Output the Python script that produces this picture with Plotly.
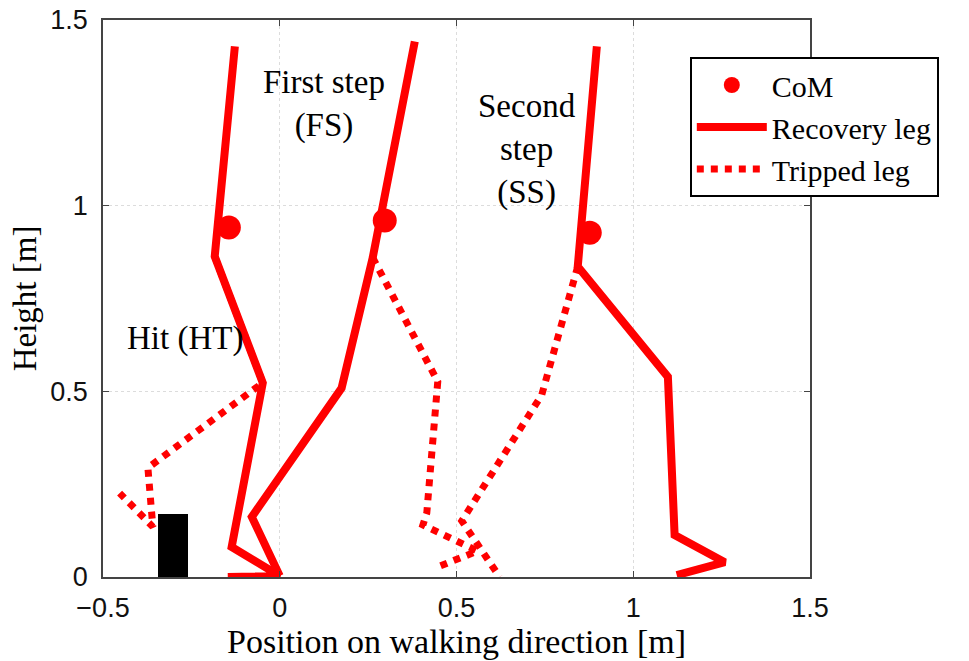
import plotly.graph_objects as go

# ---------------- data ----------------
x_tick_vals = [-0.5, 0, 0.5, 1, 1.5]
y_tick_vals = [0, 0.5, 1, 1.5]

# Hit (HT)
ht_recovery_x = [-0.127, -0.184, -0.048, -0.130, -0.136, 0.000, -0.147]
ht_recovery_y = [1.429, 0.863, 0.523, 0.108, 0.081, 0.003, 0.000]
ht_tripped_x = [-0.184, -0.048, -0.373, -0.359, -0.453]
ht_tripped_y = [0.863, 0.523, 0.294, 0.135, 0.226]

# First step (FS)
fs_recovery_x = [0.382, 0.263, 0.175, -0.079, 0.000]
fs_recovery_y = [1.442, 0.860, 0.509, 0.162, 0.003]
fs_tripped_x = [0.263, 0.447, 0.416, 0.405, 0.560, 0.438]
fs_tripped_y = [0.860, 0.526, 0.173, 0.140, 0.070, 0.024]

# Second step (SS)
ss_recovery_x = [0.897, 0.843, 1.098, 1.117, 1.259, 1.123]
ss_recovery_y = [1.429, 0.836, 0.539, 0.113, 0.040, 0.005]
ss_tripped_x = [0.843, 0.741, 0.515, 0.622]
ss_tripped_y = [0.836, 0.490, 0.151, 0.000]

# Centre of mass
com_x = [-0.144, 0.297, 0.877]
com_y = [0.941, 0.960, 0.927]

# Obstacle
obstacle_left = -0.344
obstacle_right = -0.259
obstacle_height = 0.170

# Phase labels
phase_labels = ["Hit (HT)", "First step<br>(FS)", "Second<br>step<br>(SS)"]
phase_label_x = [-0.269, 0.126, 0.699]
phase_label_y = [0.641, 1.273, 1.151]

x_title = "Position on walking direction [m]"
y_title = "Height [m]"

RED = "#ff0000"
SERIF = "Liberation Serif, Times New Roman, serif"
SANS = "Liberation Sans, Arial, sans-serif"

fig = go.Figure()

# obstacle
fig.add_trace(go.Bar(
    x=[(obstacle_left + obstacle_right) / 2], y=[obstacle_height],
    width=[obstacle_right - obstacle_left],
    marker=dict(color="black", line=dict(width=0)),
    showlegend=False, hoverinfo="skip"))

tripped = [(ht_tripped_x, ht_tripped_y), (fs_tripped_x, fs_tripped_y), (ss_tripped_x, ss_tripped_y)]
recovery = [(ht_recovery_x, ht_recovery_y), (fs_recovery_x, fs_recovery_y), (ss_recovery_x, ss_recovery_y)]

for i, (xs, ys) in enumerate(tripped):
    fig.add_trace(go.Scatter(
        x=xs, y=ys, mode="lines", name="Tripped leg", legendgroup="trip",
        showlegend=(i == 0), legendrank=3,
        line=dict(color=RED, width=7, dash="dot"), hoverinfo="skip"))

for i, (xs, ys) in enumerate(recovery):
    fig.add_trace(go.Scatter(
        x=xs, y=ys, mode="lines", name="Recovery leg", legendgroup="rec",
        showlegend=(i == 0), legendrank=2,
        line=dict(color=RED, width=8), hoverinfo="skip"))

fig.add_trace(go.Scatter(
    x=com_x, y=com_y, mode="markers", name="CoM", legendrank=1,
    marker=dict(color=RED, size=24, line=dict(width=0)), hoverinfo="skip"))

for txt, lx, ly in zip(phase_labels, phase_label_x, phase_label_y):
    fig.add_annotation(x=lx, y=ly, text=txt, showarrow=False,
                       font=dict(family=SERIF, size=33, color="black"),
                       xanchor="center", yanchor="middle", align="center")

axis_common = dict(
    showline=True, linecolor="#444", linewidth=1.5, mirror="ticks",
    ticks="inside", ticklen=6, tickwidth=1.2, tickcolor="#444",
    showgrid=True, gridcolor="#dcdcdc", gridwidth=1, griddash="dot",
    zeroline=False, automargin=False,
    tickfont=dict(family=SANS, size=27, color="#111"),
)

fig.update_xaxes(
    range=[-0.5, 1.5], tickvals=x_tick_vals, ticktext=["\u22120.5", "0", "0.5", "1", "1.5"],
    title=dict(text=x_title,
               font=dict(family=SERIF, size=34, color="black"), standoff=0),
    ticklabelstandoff=6,
    **axis_common)
fig.update_yaxes(
    range=[0, 1.5], tickvals=y_tick_vals, ticktext=["0", "0.5", "1", "1.5"],
    title=dict(text=y_title,
               font=dict(family=SERIF, size=33, color="black"), standoff=4),
    ticklabelstandoff=8,
    **axis_common)

fig.update_layout(
    width=969, height=661,
    margin=dict(l=103, r=159, t=20, b=84),
    paper_bgcolor="white", plot_bgcolor="white",
    showlegend=True,
    legend=dict(
        x=0.830, y=0.9336, xanchor="left", yanchor="top",
        bgcolor="white", bordercolor="black", borderwidth=2,
        font=dict(family=SERIF, size=30, color="black"),
        itemwidth=70, tracegroupgap=0,
    ),
    bargap=0,
)

fig.write_html("out.html")
